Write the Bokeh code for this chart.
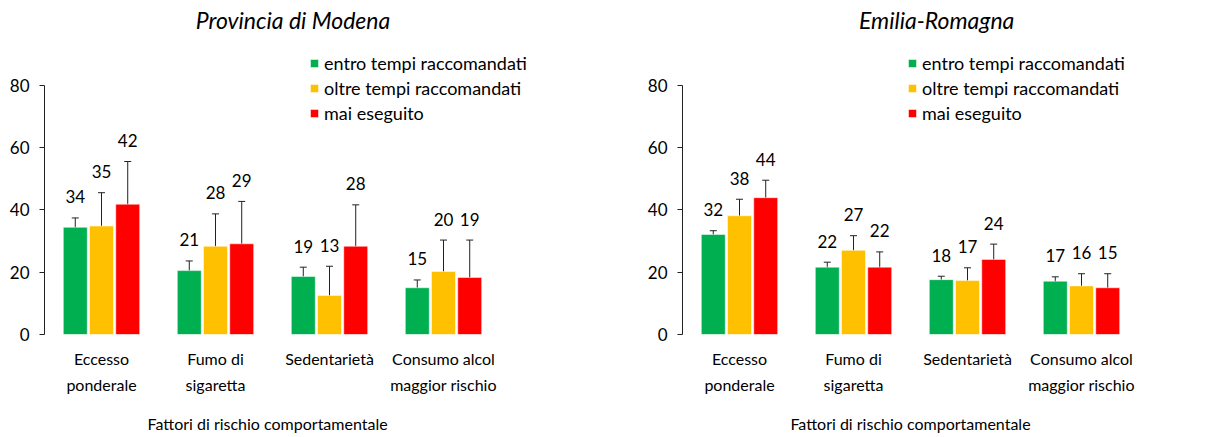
from bokeh.plotting import figure
from bokeh.layouts import row
from bokeh.models import Range1d, FixedTicker, Whisker, ColumnDataSource, Label, TeeHead, Title
from bokeh.core.properties import value
from bokeh.embed import file_html
from bokeh.resources import INLINE

# ---------------- data ----------------
categories = ["Eccesso\nponderale", "Fumo di\nsigaretta", "Sedentarietà", "Consumo alcol\nmaggior rischio"]
series = ["entro tempi raccomandati", "oltre tempi raccomandati", "mai eseguito"]
colors = ["#00B050", "#FFC000", "#FF0000"]
y_ticks = [0, 20, 40, 60, 80]
x_title = "Fattori di rischio comportamentale"

# Provincia di Modena
mo_entro = [34.4, 20.5, 18.6, 15.0]
mo_oltre = [34.8, 28.3, 12.5, 20.2]
mo_mai = [41.8, 29.1, 28.3, 18.3]
mo_entro_lo = [31.6, 18.5, 16.9, 13.0]
mo_entro_hi = [37.4, 23.6, 21.6, 17.5]
mo_oltre_lo = [25.9, 19.8, 7.0, 13.0]
mo_oltre_hi = [45.5, 38.7, 21.9, 30.3]
mo_mai_lo = [29.8, 18.8, 18.1, 10.9]
mo_mai_hi = [55.5, 42.7, 41.6, 30.3]
mo_entro_lbl = ["34", "21", "19", "15"]
mo_oltre_lbl = ["35", "28", "13", "20"]
mo_mai_lbl = ["42", "29", "28", "19"]

# Emilia-Romagna
er_entro = [32.1, 21.6, 17.6, 17.1]
er_oltre = [38.1, 27.0, 17.3, 15.6]
er_mai = [43.9, 21.6, 24.1, 15.0]
er_entro_lo = [30.7, 20.7, 16.7, 15.9]
er_entro_hi = [33.3, 23.2, 18.7, 18.5]
er_oltre_lo = [33.9, 23.1, 14.0, 12.7]
er_oltre_hi = [43.4, 31.7, 21.4, 19.5]
er_mai_lo = [38.5, 17.3, 20.0, 11.7]
er_mai_hi = [49.5, 26.5, 29.0, 19.5]
er_entro_lbl = ["32", "22", "18", "17"]
er_oltre_lbl = ["38", "27", "17", "16"]
er_mai_lbl = ["44", "22", "24", "15"]

FONT = "Lato"
TXT = "#000000"
FS = "18px"      # legend
FS_NUM = "17px"  # value labels and y ticks
FS_CAT = "16px"  # category labels and x title
GROUP_PX = 114.0


def panel(title, vals, los, his, lbls, border_left, border_right, frame_w, legend_x, title_x,
          xlab_align, xlab_offset):
    n = len(categories)
    p = figure(frame_width=frame_w, frame_height=326,
               min_border_left=border_left, min_border_right=border_right,
               min_border_top=8, min_border_bottom=103,
               x_range=Range1d(0, frame_w / GROUP_PX), y_range=Range1d(0, 104.6),
               output_backend="svg", toolbar_location=None, tools="")
    p.outline_line_color = None
    p.xgrid.visible = False
    p.ygrid.visible = False
    p.background_fill_color = "white"
    p.border_fill_color = "white"

    offsets = [-0.23, 0.0, 0.23]
    centers = [i + 0.5 for i in range(n)]
    for k in range(3):
        xs = [c + offsets[k] for c in centers]
        src = ColumnDataSource(dict(x=xs, top=vals[k], lo=los[k], hi=his[k], lbl=lbls[k]))
        p.vbar(x="x", top="top", width=0.21, bottom=0, source=src,
               fill_color=colors[k], line_color="white", line_width=0.5,
               legend_label=series[k])
        w = Whisker(base="x", lower="lo", upper="hi", source=src,
                    line_color="#222222", line_width=1,
                    upper_head=TeeHead(size=7, line_color="#222222", line_width=1),
                    lower_head=TeeHead(size=7, line_color="#222222", line_width=1))
        p.add_layout(w)
        p.text(x="x", y="hi", text="lbl", source=src, text_align="center",
               text_baseline="middle", y_offset=-21, text_font=value(FONT),
               text_font_size=FS_NUM, text_color=TXT)

    # y axis
    yax = p.yaxis[0]
    yax.ticker = FixedTicker(ticks=y_ticks)
    yax.bounds = (0, 80)
    yax.minor_tick_line_color = None
    yax.major_tick_out = 5
    yax.major_tick_in = 0
    yax.axis_line_color = "#222222"
    yax.major_tick_line_color = "#222222"
    yax.major_label_standoff = 10
    yax.major_label_text_font = FONT
    yax.major_label_text_font_size = FS_NUM
    yax.major_label_text_color = TXT

    # x axis
    xax = p.xaxis[0]
    xax.ticker = FixedTicker(ticks=centers)
    xax.major_label_overrides = {c: lab for c, lab in zip(centers, categories)}
    xax.axis_line_color = None
    xax.major_tick_line_color = None
    xax.minor_tick_line_color = None
    xax.major_tick_out = 0
    xax.major_label_standoff = 14
    xax.major_label_text_font = FONT
    xax.major_label_text_font_size = FS_CAT
    xax.major_label_text_line_height = 1.4
    xax.major_label_text_color = TXT

    # x axis title, as a title placed below the axis
    p.add_layout(Title(text=x_title, align=xlab_align, offset=xlab_offset,
                       text_font=FONT, text_font_size=FS_CAT, text_font_style="normal",
                       text_color=TXT, standoff=28), "below")
    # title
    p.add_layout(Label(x=title_x, y=100.8, text=title, text_font=FONT,
                       text_font_size="23px", text_font_style="italic",
                       text_align="center", text_baseline="middle", text_color=TXT))
    # percent sign
    p.add_layout(Label(x=-0.18, y=-9.0, text="%", text_font=FONT,
                       text_font_size=FS_CAT, text_align="center",
                       text_baseline="middle", text_color=TXT))

    lg = p.legend[0]
    lg.location = (legend_x, 209)
    lg.border_line_color = None
    lg.background_fill_alpha = 0
    lg.padding = 0
    lg.margin = 0
    lg.spacing = 0
    lg.glyph_width = 10
    lg.glyph_height = 10
    lg.label_height = 25
    lg.label_standoff = 5
    lg.label_text_font = FONT
    lg.label_text_font_size = FS
    lg.label_text_color = TXT
    return p


p1 = panel("Provincia di Modena",
           [mo_entro, mo_oltre, mo_mai],
           [mo_entro_lo, mo_oltre_lo, mo_mai_lo],
           [mo_entro_hi, mo_oltre_hi, mo_mai_hi],
           [mo_entro_lbl, mo_oltre_lbl, mo_mai_lbl],
           44, 0, 564, 265, 2.18, "left", 103)
p2 = panel("Emilia-Romagna",
           [er_entro, er_oltre, er_mai],
           [er_entro_lo, er_oltre_lo, er_mai_lo],
           [er_entro_hi, er_oltre_hi, er_mai_hi],
           [er_entro_lbl, er_oltre_lbl, er_mai_lbl],
           74, 70, 456, 225, 2.23, "center", -2)

layout = row(p1, p2)
open("out.html", "w").write(file_html(layout, INLINE))
